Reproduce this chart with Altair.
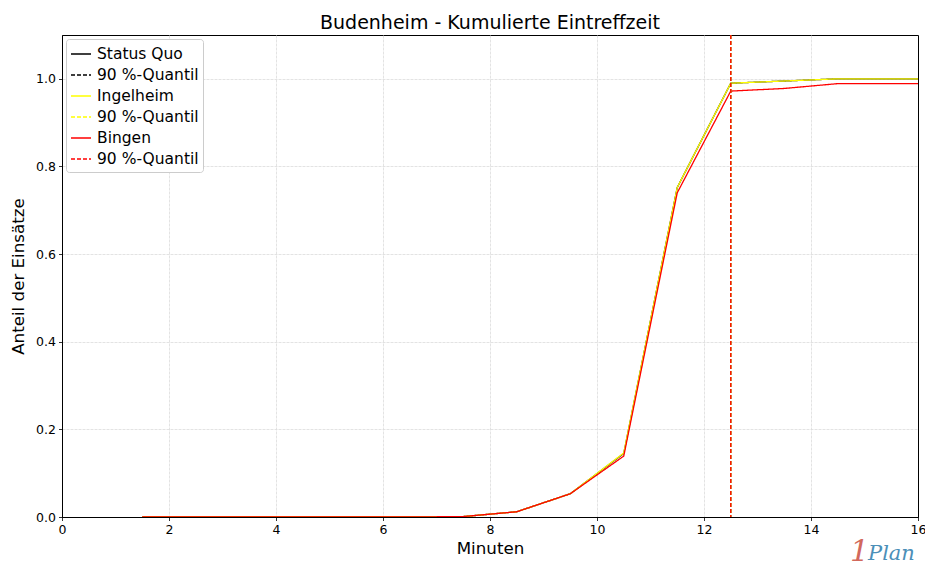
import altair as alt
import pandas as pd

# ---- data ----
minutes = [1.5, 2.5, 3.5, 4.5, 5.5, 6.5, 7.5, 8.5, 9.5, 10.5, 11.5, 12.5, 13.5, 14.5, 15.5, 16.5]
status_quo = [0, 0, 0, 0, 0, 0, 0.001, 0.012, 0.053, 0.145, 0.752, 0.990, 0.995, 1.0, 1.0, 1.0]
ingelheim = [0, 0, 0, 0, 0, 0, 0.001, 0.012, 0.053, 0.146, 0.752, 0.990, 0.995, 1.0, 1.0, 1.0]
bingen = [0, 0, 0, 0, 0, 0, 0.001, 0.012, 0.053, 0.139, 0.740, 0.972, 0.978, 0.989, 0.989, 0.989]
quantile_sq = 12.5
quantile_ingelheim = 12.5
quantile_bingen = 12.5

keys = ["a", "b", "c", "d", "e", "f"]
labels = ["Status Quo", "90 %-Quantil", "Ingelheim", "90 %-Quantil", "Bingen", "90 %-Quantil"]
colors = ["#000000", "#000000", "#ffff00", "#ffff00", "#ff0000", "#ff0000"]
dashes = [[1, 0], [4, 2], [1, 0], [4, 2], [1, 0], [4, 2]]
x_ticks = [0, 2, 4, 6, 8, 10, 12, 14, 16]
y_ticks = [0, 0.2, 0.4, 0.6, 0.8, 1.0]

FONT = "DejaVu Sans"

label_expr = ""
for k, l in zip(keys, labels):
    label_expr += f"datum.value == '{k}' ? '{l}' : "
label_expr += "''"

legend = alt.Legend(
    title=None, labelExpr=label_expr, symbolType="stroke", orient="top-left",
    offset=4, padding=4, fillColor="white", strokeColor="#cccccc", cornerRadius=3,
    labelFontSize=15.5, labelFont=FONT, labelColor="#000", labelOffset=5,
    symbolSize=400, symbolStrokeWidth=1.3, rowPadding=1, labelLimit=300,
)

color = alt.Color("key:N", scale=alt.Scale(domain=keys, range=colors), legend=legend)
dash = alt.StrokeDash("key:N", scale=alt.Scale(domain=keys, range=dashes), legend=legend)

common = dict(titleFontSize=16.7, titleFont=FONT, titleFontWeight="normal", titleColor="#000",
              labelFontSize=12.5, labelFont=FONT, labelColor="#000", labelFlush=False,
              tickSize=3.5, tickColor="#000", tickWidth=0.8, labelPadding=3,
              domain=True, domainColor="#000", domainWidth=1,
              grid=True, gridColor="#dcdcdc", gridWidth=0.8, gridDash=[3, 1])

x_axis = alt.Axis(values=x_ticks, format="d", title="Minuten", titlePadding=4,
                  gridOpacity={"condition": {"test": "datum.value >= 16 || datum.value <= 0", "value": 0},
                               "value": 1},
                  **common)
y_axis = alt.Axis(values=y_ticks, format=".1f", title="Anteil der Einsätze", titlePadding=8,
                  gridOpacity={"condition": {"test": "datum.value <= 0", "value": 0}, "value": 1},
                  **common)

xs = alt.X("min:Q", scale=alt.Scale(domain=[0, 16], nice=False, zero=False), axis=x_axis)
ys = alt.Y("val:Q", scale=alt.Scale(domain=[0, 1.1], nice=False), axis=y_axis)


def line_layer(values, key):
    df = pd.DataFrame({"min": minutes, "val": values, "key": key})
    return alt.Chart(df).mark_line(clip=True, strokeWidth=1.3).encode(
        x=xs, y=ys, color=color, strokeDash=dash)


def rule_layer(q, key):
    df = pd.DataFrame({"min": [q], "key": [key]})
    return alt.Chart(df).mark_rule(strokeWidth=1.3).encode(
        x=alt.X("min:Q"), color=color, strokeDash=dash)


logo1 = alt.Chart(pd.DataFrame({"t": ["1"]})).mark_text(
    font="DejaVu Serif", fontSize=30, fontStyle="italic", color="#d2685c", align="left",
    baseline="alphabetic").encode(text="t:N", x=alt.value(788), y=alt.value(526))
logo2 = alt.Chart(pd.DataFrame({"t": ["Plan"]})).mark_text(
    font="DejaVu Serif", fontSize=21, fontStyle="italic", color="#4b8fb8", align="left",
    baseline="alphabetic").encode(text="t:N", x=alt.value(806), y=alt.value(525))

chart = alt.layer(
    line_layer(status_quo, "a"),
    line_layer(ingelheim, "c"),
    line_layer(bingen, "e"),
    rule_layer(quantile_sq, "b"),
    rule_layer(quantile_ingelheim, "d"),
    rule_layer(quantile_bingen, "f"),
    logo1, logo2,
).properties(
    width=856, height=482,
    title=alt.TitleParams("Budenheim - Kumulierte Eintreffzeit", fontSize=19, font=FONT,
                          fontWeight="normal", color="#000", anchor="middle", offset=1),
    autosize=alt.AutoSizeParams(type="none"),
    padding={"left": 54, "top": 27, "right": 7, "bottom": 50},
).configure_view(stroke="#000", strokeWidth=1)

chart.save("out.html", embed_options={"renderer": "svg", "actions": False})
